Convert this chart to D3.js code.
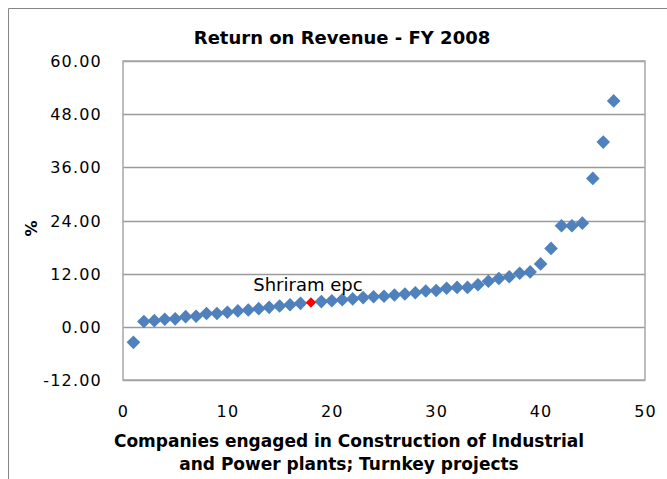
<!doctype html>
<html>
<head>
<meta charset="utf-8">
<title>Return on Revenue - FY 2008</title>
<script src="https://d3js.org/d3.v7.min.js"></script>
<style>
body { margin: 0; background: #fff; }
.axis { font: 16px "DejaVu Sans", Verdana, sans-serif; letter-spacing: 1.2px; }
.axis path, .axis line { display: none; }
</style>
</head>
<body>
<svg width="667" height="479"></svg>
<script>
// company rank on x, return on revenue (%) on y
var companies = d3.range(1, 48);
var returns = [-3.5, 1.2, 1.4, 1.7, 1.8, 2.3, 2.4, 3.0, 3.0, 3.3,
               3.6, 3.8, 4.1, 4.4, 4.7, 5.0, 5.3, 5.5, 5.7, 5.9,
               6.1, 6.3, 6.6, 6.8, 6.9, 7.2, 7.4, 7.7, 8.1, 8.2,
               8.7, 8.9, 8.9, 9.5, 10.3, 10.9, 11.3, 12.1, 12.4, 14.2,
               17.7, 22.8, 22.8, 23.4, 33.5, 41.7, 51.0];
var highlightIndex = 17;           // Shriram epc
var highlightLabel = "Shriram epc";
var xTicks = [0, 10, 20, 30, 40, 50];
var yTicks = [-12, 0, 12, 24, 36, 48, 60];

var svg = d3.select("svg");
var plotL = 123, plotR = 645, plotT = 61, plotB = 380;

var x = d3.scaleLinear().domain([0, 50]).range([plotL, plotR]);
var y = d3.scaleLinear().domain([-12, 60]).range([plotB, plotT]);

// outer chart frame
svg.append("path")
    .attr("d", "M8.5,479V8.5H667")
    .attr("fill", "none")
    .attr("stroke", "#868686")
    .attr("stroke-width", 1);

// gridlines
svg.append("g").selectAll("line")
    .data(yTicks)
  .enter().append("line")
    .attr("x1", plotL).attr("x2", plotR)
    .attr("y1", function(d) { return Math.round(y(d)) + 0.5; })
    .attr("y2", function(d) { return Math.round(y(d)) + 0.5; })
    .attr("stroke", "#9a9a9a")
    .attr("stroke-width", 1.5);

// plot border
svg.append("rect")
    .attr("x", plotL).attr("y", plotT)
    .attr("width", plotR - plotL).attr("height", plotB - plotT)
    .attr("fill", "none")
    .attr("stroke", "#a6a6a6")
    .attr("stroke-width", 1.5);

svg.append("g")
    .attr("class", "axis")
    .attr("transform", "translate(" + (plotL - 18) + ",0)")
    .call(d3.axisLeft(y).tickValues(yTicks).tickSize(0)
      .tickFormat(function(d) { return d.toFixed(2); }))
    .selectAll("text").attr("fill", "#000").attr("dy", "0.35em");

svg.append("g")
    .attr("class", "axis")
    .attr("transform", "translate(0," + (plotB + 23) + ")")
    .call(d3.axisBottom(x).tickValues(xTicks).tickSize(0))
    .selectAll("text").attr("fill", "#000").attr("dy", "0.71em");

function diamond(r) {
  return "M0," + (-r) + "L" + r + ",0L0," + r + "L" + (-r) + ",0Z";
}

svg.append("g").selectAll("path")
    .data(returns)
  .enter().append("path")
    .attr("d", function(d, i) { return diamond(i === highlightIndex ? 5 : 6.8); })
    .attr("transform", function(d, i) {
      return "translate(" + x(companies[i]) + "," + y(d) + ")";
    })
    .attr("fill", function(d, i) { return i === highlightIndex ? "#ff0000" : "#4f81bd"; });

// bring highlighted point to front
svg.append("path")
    .attr("d", diamond(5))
    .attr("transform", "translate(" + x(companies[highlightIndex]) + "," + y(returns[highlightIndex]) + ")")
    .attr("fill", "#ff0000");

svg.append("text")
    .attr("x", x(companies[highlightIndex]) - 3)
    .attr("y", y(returns[highlightIndex]) - 11)
    .attr("text-anchor", "middle")
    .style("font", "18px 'DejaVu Sans', Verdana, sans-serif")
    .text(highlightLabel);

svg.append("text")
    .attr("x", 342).attr("y", 44)
    .attr("text-anchor", "middle")
    .style("font", "bold 18px 'DejaVu Sans', Verdana, sans-serif")
    .text("Return on Revenue - FY 2008");

var xt = svg.append("text")
    .attr("text-anchor", "middle")
    .style("font", "bold 17px 'DejaVu Sans', Verdana, sans-serif");
xt.append("tspan").attr("x", 349).attr("y", 447).text("Companies engaged in Construction of Industrial");
xt.append("tspan").attr("x", 349).attr("y", 470).text("and Power plants; Turnkey projects");

svg.append("text")
    .attr("transform", "translate(37," + ((plotT + plotB) / 2 + 8) + ") rotate(-90)")
    .attr("text-anchor", "middle")
    .style("font", "bold 16px 'DejaVu Sans', Verdana, sans-serif")
    .text("%");
</script>
</body>
</html>
